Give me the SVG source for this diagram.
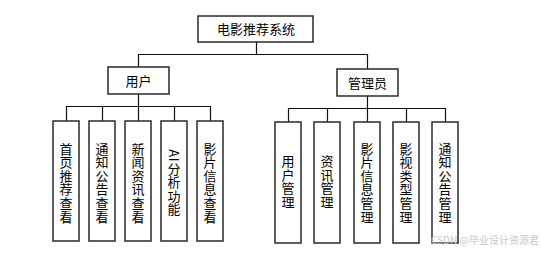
<svg xmlns="http://www.w3.org/2000/svg" width="541" height="254" viewBox="0 0 541 254">
<style>
.box{fill:#fff;stroke:#2a2a2a;stroke-width:1.5}
.t{font-family:"Noto Sans CJK SC","Microsoft YaHei",sans-serif;font-size:13px;fill:#000;text-anchor:middle}
.v{writing-mode:vertical-rl;letter-spacing:0.6px}
.ln{stroke:#111;stroke-width:1.2;fill:none}
.wm{font-family:"Noto Sans CJK SC",sans-serif;font-size:10px;fill:#c8c8c8}
</style>
<rect width="541" height="254" fill="#fff"/>
<g id="connectors">
<path class="ln" d="M256.5 42V54.5H138.5V67M256.5 54.5H367.5V69"/>
<path class="ln" d="M138.5 94V106.5M66.5 121V106.5H210.5V121M102.5 106.5V121M138.5 106.5V121M174.5 106.5V121"/>
<path class="ln" d="M367.5 96V108.5M288.5 122V108.5H445.5V122M327.5 108.5V122M367.5 108.5V122M406.5 108.5V122"/>
</g>
<g id="root"><rect class="box" x="198" y="16" width="115" height="26"/><text class="t" x="256" y="34">电影推荐系统</text></g>
<g id="user"><rect class="box" x="108" y="67" width="61" height="27"/><text class="t" x="138.5" y="85.5">用户</text></g>
<g id="admin"><rect class="box" x="337" y="69" width="61" height="27"/><text class="t" x="367.5" y="87.5">管理员</text></g>
<g id="u1"><rect class="box" x="53" y="121" width="26" height="120"/><text class="t v" x="66" y="183">首页推荐查看</text></g>
<g id="u2"><rect class="box" x="89" y="121" width="26" height="120"/><text class="t v" x="102" y="183">通知公告查看</text></g>
<g id="u3"><rect class="box" x="125" y="121" width="26" height="120"/><text class="t v" x="138" y="183">新闻资讯查看</text></g>
<g id="u4"><rect class="box" x="161" y="121" width="26" height="120"/><text class="t v" x="174" y="183">AI分析功能</text></g>
<g id="u5"><rect class="box" x="197" y="121" width="26" height="120"/><text class="t v" x="210" y="183">影片信息查看</text></g>
<g id="a1"><rect class="box" x="275" y="122" width="26" height="121"/><text class="t v" x="288" y="182">用户管理</text></g>
<g id="a2"><rect class="box" x="314" y="122" width="26" height="121"/><text class="t v" x="327" y="182">资讯管理</text></g>
<g id="a3"><rect class="box" x="354" y="122" width="26" height="121"/><text class="t v" x="367" y="183">影片信息管理</text></g>
<g id="a4"><rect class="box" x="393" y="122" width="26" height="121"/><text class="t v" x="406" y="183">影视类型管理</text></g>
<g id="a5"><rect class="box" x="432" y="122" width="26" height="121"/><text class="t v" x="445" y="183">通知公告管理</text></g>
<text class="wm" x="431" y="244">CSDN @毕业设计资源君</text>
</svg>
